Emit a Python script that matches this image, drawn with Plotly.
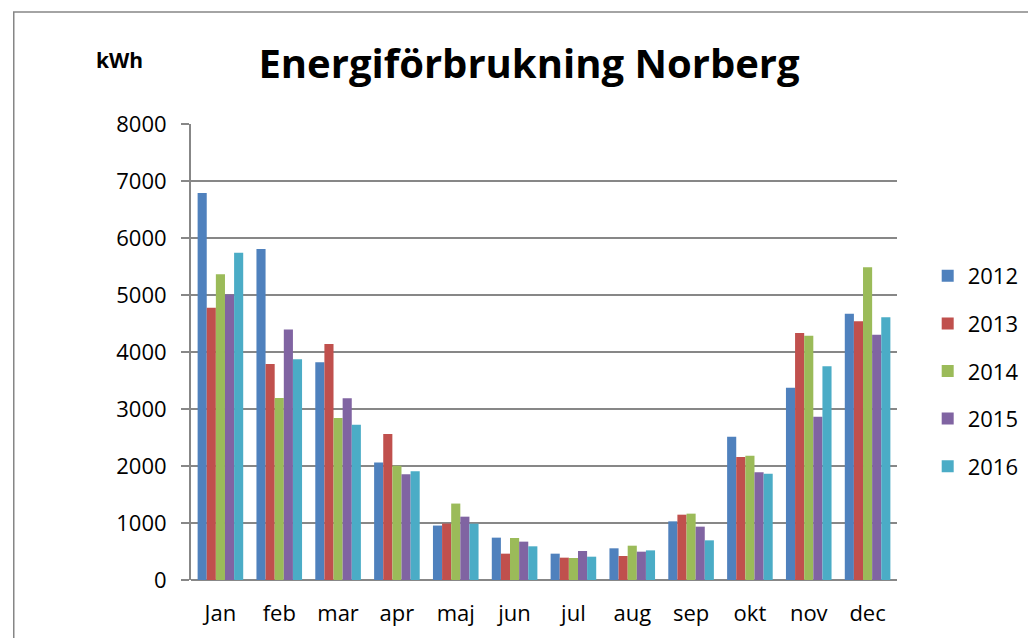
import plotly.graph_objects as go

months = ["Jan", "feb", "mar", "apr", "maj", "jun", "jul", "aug", "sep", "okt", "nov", "dec"]
years = ["2012", "2013", "2014", "2015", "2016"]

v2012 = [6790, 5806, 3820, 2062, 955, 743, 462, 556, 1029, 2515, 3374, 4673]
v2013 = [4775, 3790, 4142, 2560, 990, 462, 392, 421, 1146, 2158, 4333, 4538]
v2014 = [5366, 3193, 2841, 2003, 1341, 737, 386, 602, 1164, 2181, 4287, 5485]
v2015 = [5009, 4394, 3187, 1857, 1111, 673, 509, 497, 936, 1889, 2865, 4304]
v2016 = [5741, 3872, 2724, 1910, 988, 591, 409, 520, 696, 1865, 3749, 4608]

series = [v2012, v2013, v2014, v2015, v2016]
colors = ["#4F81BD", "#C0504D", "#9BBB59", "#8064A2", "#4BACC6"]

FONT = "Open Sans"
GRID = "#878787"

# page body has an 8px margin; work in figure pixel coords
OFF = 8
W, H = 1036 - OFF, 638 - OFF
ml, mr, mt, mb = 191 - OFF, 132, 124 - OFF, 58
pw, ph = W - ml - mr, H - mt - mb


def px(x):
    return (x - OFF - ml) / pw


def py(y):
    return (mt + ph - (y - OFF)) / ph


fig = go.Figure()
for name, vals, col in zip(years, series, colors):
    fig.add_trace(go.Bar(
        x=months, y=vals, name=name, legendgroup=name,
        marker=dict(color=col, line=dict(width=0)),
    ))

fig.update_layout(
    width=W, height=H,
    margin=dict(l=ml, r=mr, t=mt, b=mb, pad=0),
    paper_bgcolor="white", plot_bgcolor="white",
    font=dict(family=FONT, size=22, color="black"),
    barmode="group", bargap=0.225, bargroupgap=0,
    title=dict(text="<b>Energiförbrukning Norberg</b>",
               x=(529 - OFF) / W, xanchor="center", y=1 - (64 - OFF) / H, yanchor="middle",
               font=dict(family=FONT, size=40, color="black")),
    showlegend=True,
    legend=dict(x=px(935), xanchor="left", y=py(275 - 20), yanchor="top",
                font=dict(family=FONT, size=22, color="black"),
                tracegroupgap=16, bgcolor="rgba(0,0,0,0)", itemwidth=30),
    xaxis=dict(showgrid=False, showline=False, ticks="", tickfont=dict(size=22),
               ticklabelstandoff=18),
    yaxis=dict(range=[0, 8000], dtick=1000, showgrid=True, gridcolor=GRID, gridwidth=2,
               showline=True, linecolor=GRID, linewidth=2,
               ticks="outside", ticklen=8, tickcolor=GRID, tickwidth=2,
               tickfont=dict(size=22), zeroline=True, zerolinecolor=GRID, zerolinewidth=2,
               ticklabelstandoff=10),
)

fig.add_annotation(text="<b>kWh</b>", xref="paper", yref="paper",
                   x=px(119), y=py(60), xanchor="center", yanchor="middle",
                   showarrow=False, font=dict(family=FONT, size=21, color="black"))

fig.add_shape(type="rect", xref="paper", yref="paper",
              x0=px(12), x1=px(1100), y0=py(700), y1=py(12),
              line=dict(color="#868686", width=1.5), fillcolor="rgba(0,0,0,0)", layer="below")

fig.write_html("out.html")
